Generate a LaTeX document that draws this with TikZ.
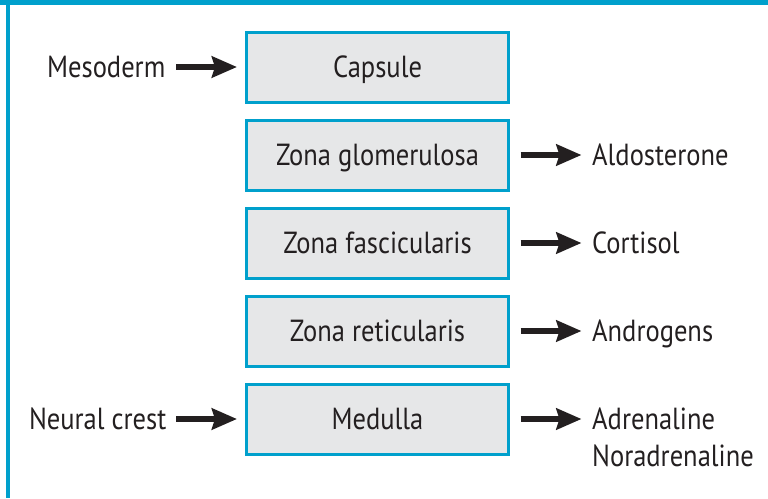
\documentclass[tikz,border=0pt]{standalone}
\usepackage{fontspec}
\setmainfont[FakeStretch=0.87]{PT Sans}
\usetikzlibrary{arrows.meta}
\definecolor{frameblue}{HTML}{00A0CC}
\definecolor{boxgray}{HTML}{E6E7E8}
\definecolor{ink}{HTML}{231F20}
\begin{document}
\begin{tikzpicture}[x=1pt,y=-1pt,
  every node/.style={text=ink,font=\fontsize{30.5}{37}\selectfont},
  zone/.style={draw=frameblue,fill=boxgray,line width=3pt,minimum width=262pt,
    minimum height=70pt,inner sep=0pt,text height=21pt,text depth=0pt},
  label/.style={inner sep=0pt,text height=21pt,text depth=0pt},
  arr/.style={draw=ink,line width=5.5pt,-{Stealth[length=25pt,width=21pt,inset=3pt]}},
]
\useasboundingbox (0,0) rectangle (768,498);
% outer frame: top and left rules
\fill[frameblue] (0,0) rectangle (768,4.7);
\fill[frameblue] (6,0) rectangle (10,498);

% layers of the gland
\node[zone] (cap) at (377.5,67) {Capsule};
\node[zone] (zg)  at (377.5,155) {Zona glomerulosa};
\node[zone] (zf)  at (377.5,243) {Zona fascicularis};
\node[zone] (zr)  at (377.5,331) {Zona reticularis};
\node[zone] (med) at (377.5,419) {Medulla};

% embryonic origins
\node[label,anchor=east] (meso) at (165.5,67) {Mesoderm};
\node[label,anchor=east] (nc)   at (166.5,419) {Neural crest};

% secretions
\node[label,anchor=west] (aldo) at (592,155) {Aldosterone};
\node[label,anchor=west] (cort) at (592,243) {Cortisol};
\node[label,anchor=west] (andr) at (592,331) {Androgens};
\node[inner sep=0pt,anchor=base west] (adr) at (592,429) {Adrenaline};
\node[inner sep=0pt,anchor=base west] (nor) at (592,466) {Noradrenaline};

% connectors
\draw[arr,shorten <=10.5pt,shorten >=8pt] (meso.east) -- (cap.west);
\draw[arr,shorten <=9.5pt,shorten >=8pt] (nc.east) -- (med.west);
\draw[arr,shorten <=10.5pt,shorten >=10.5pt] (zg.east) -- (aldo.west);
\draw[arr,shorten <=10.5pt,shorten >=10.5pt] (zf.east) -- (cort.west);
\draw[arr,shorten <=10.5pt,shorten >=10.5pt] (zr.east) -- (andr.west);
\draw[arr,shorten <=10.5pt,shorten >=10.5pt] (med.east) -- (med.east -| adr.west);
\end{tikzpicture}
\end{document}
